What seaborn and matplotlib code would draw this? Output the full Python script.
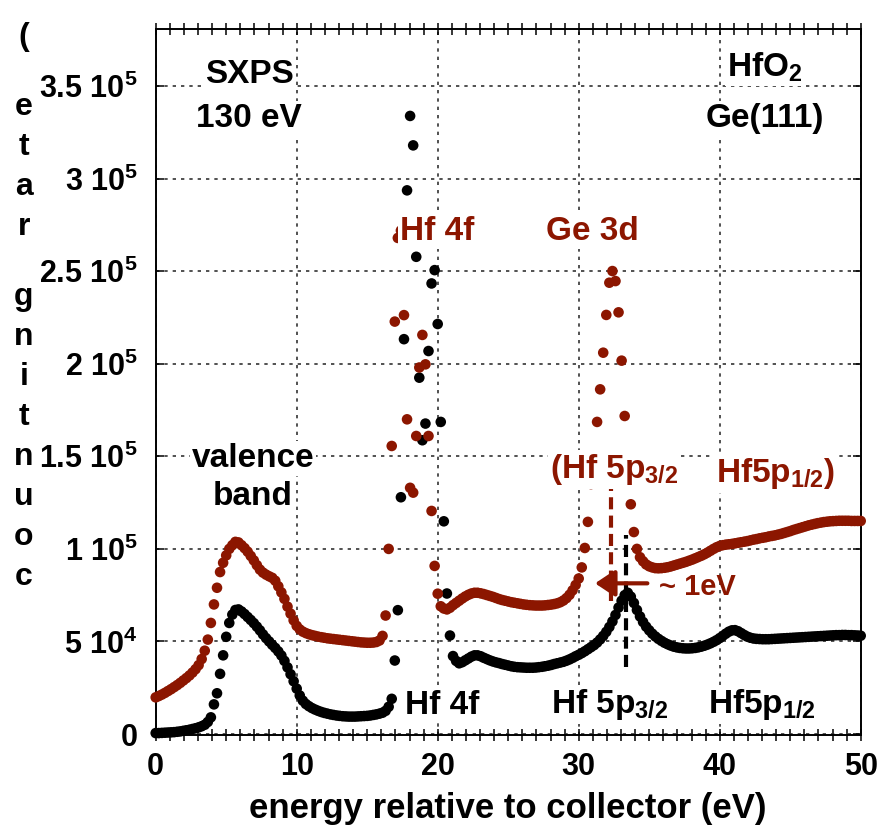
import numpy as np
import pandas as pd
import matplotlib
matplotlib.use("Agg")
import matplotlib.pyplot as plt
from matplotlib.ticker import MultipleLocator, FixedLocator, FixedFormatter
import seaborn as sns

# ---------------- data (counts in units of 1000) ----------------
energy_start, energy_stop, n_samples = 0.0, 50.0, 231

black_counts_k = [
    0.5, 0.5, 0.6, 0.7, 0.8, 0.9, 1.0, 1.2, 1.4, 1.7,
    2.0, 2.3, 2.7, 3.1, 3.6, 4.2, 5.0, 6.5, 9.0, 16,
    22, 32.5, 42.5, 52.5, 60, 64.5, 67, 67.3, 66.2, 64.8,
    63.2, 61.6, 59.9, 58, 56, 53.8, 51.8, 50, 48.2, 46.5,
    44.6, 42.4, 39.5, 36, 32.3, 28.5, 24.5, 20.8, 18, 16.2,
    15, 14, 13.2, 12.5, 11.9, 11.4, 11, 10.6, 10.3, 10.0,
    9.8, 9.6, 9.5, 9.4, 9.4, 9.4, 9.5, 9.6, 9.7, 9.8,
    10.0, 10.3, 10.6, 11.0, 11.5, 12.5, 14.7, 19, 39.7, 66.9,
    127.9, 213.3, 293.7, 333.9, 318, 257.8, 192.5, 158.7, 167.7, 206.9,
    243.4, 250.6, 221.5, 168.6, 114.9, 75.9, 53.2, 42.1, 39.5, 38.2,
    38.8, 39.8, 40.8, 41.8, 42.5, 42.5, 42, 41.2, 40.5, 39.8,
    39.2, 38.7, 38.3, 37.8, 37.4, 37, 36.6, 36.3, 36.1, 36,
    35.9, 35.8, 35.8, 35.8, 35.9, 36.1, 36.3, 36.6, 36.9, 37.3,
    37.8, 38.2, 38.6, 39, 39.6, 40.3, 41.1, 42, 42.8, 43.7,
    44.7, 45.8, 46.9, 48, 49.4, 51.1, 53, 55.2, 57.8, 60.8,
    64.3, 68.3, 72, 75, 76.3, 74.2, 70.8, 67, 63.5, 60.5,
    58, 56, 54.2, 52.7, 51.4, 50.3, 49.3, 48.5, 47.8, 47.2,
    46.8, 46.5, 46.3, 46.2, 46.2, 46.3, 46.5, 46.8, 47.2, 47.7,
    48.3, 49, 49.8, 50.7, 51.8, 53, 54.2, 55.3, 56, 56.1,
    55.5, 54.5, 53.5, 52.6, 52, 51.6, 51.4, 51.3, 51.2, 51.2,
    51.2, 51.3, 51.4, 51.5, 51.6, 51.7, 51.8, 51.9, 52, 52.1,
    52.2, 52.3, 52.4, 52.5, 52.6, 52.7, 52.8, 52.9, 53, 53.1,
    53.2, 53.3, 53.4, 53.4, 53.5, 53.5, 53.4, 53.4, 53.3, 53.2,
    53.1,
]

red_counts_k = [
    19.8, 20.5, 21.3, 22.2, 23.2, 24.2, 25.3, 26.4, 27.6, 28.9,
    30.2, 31.6, 33.2, 35, 37.2, 40.5, 45, 51, 60, 70,
    79, 87.5, 92.5, 96.5, 100, 102, 103.8, 103.5, 102, 100.4,
    98.5, 96.2, 93.8, 91.2, 88.8, 87.2, 86.1, 85.2, 84.4, 82.8,
    79.8, 76.5, 73, 68.8, 65, 61.4, 58.4, 56.5, 55.3, 54.5,
    53.9, 53.4, 53, 52.6, 52.3, 52, 51.7, 51.5, 51.3, 51.1,
    50.9, 50.7, 50.5, 50.3, 50.1, 49.9, 49.7, 49.5, 49.4, 49.3,
    49.3, 49.4, 49.7, 50.5, 53, 64, 100, 155.6, 222.8, 268,
    272, 226.3, 170, 133, 130.4, 161, 198, 215.6, 199.7, 161,
    120.5, 90.8, 75.8, 69, 67.8, 67.3, 68.2, 69.6, 70.8, 72,
    73.2, 74.3, 75.2, 75.9, 76.3, 76.3, 76, 75.6, 75.1, 74.6,
    74.1, 73.5, 72.9, 72.4, 72, 71.6, 71.2, 70.9, 70.6, 70.3,
    70, 69.8, 69.6, 69.5, 69.4, 69.4, 69.4, 69.5, 69.7, 69.9,
    70.2, 70.6, 71.2, 72.1, 73.4, 75.2, 77.6, 80.5, 84, 90,
    100.5, 114.6, 135, 150, 168.6, 186.2, 206, 226.4, 243.8, 250.1,
    244.7, 227.8, 201.7, 171.8, 145, 124.1, 109.1, 100, 95.5, 93.3,
    91.6, 90.6, 90, 89.6, 89.5, 89.6, 89.8, 90.1, 90.5, 91,
    91.5, 92, 92.5, 93, 93.6, 94.2, 94.9, 95.6, 96.3, 97.1,
    98, 99, 100, 100.9, 101.6, 102, 102.3, 102.5, 102.7, 103,
    103.3, 103.6, 103.9, 104.2, 104.6, 105, 105.3, 105.7, 106, 106.3,
    106.7, 107, 107.3, 107.7, 108.1, 108.6, 109.1, 109.6, 110.2, 110.7,
    111.2, 111.7, 112.2, 112.7, 113.1, 113.5, 113.9, 114.2, 114.5, 114.7,
    114.9, 115, 115.1, 115.2, 115.2, 115.2, 115.2, 115.1, 115.1, 115.1,
    115.1,
]

series_names = ["black", "red"]
x_ticks = [0, 10, 20, 30, 40, 50]
x_tick_labels = ["0", "10", "20", "30", "40", "50"]
y_ticks = [0, 50000, 100000, 150000, 200000, 250000, 300000, 350000]
y_tick_labels = ["0", "5 10$^4$", "1 10$^5$", "1.5 10$^5$", "2 10$^5$",
                 "2.5 10$^5$", "3 10$^5$", "3.5 10$^5$"]
x_label = "energy relative to collector (eV)"
y_label = "counting rate ("

# peak markers: energy, low count, high count
black_peak_marker = (33.36, 36000, 107500)
red_peak_marker = (32.3, 72000, 132500)
shift_arrow = (34.87, 31.16, 81400)   # from, to, height

# ---------------- style ----------------
sns.set_theme(style="white")
plt.rcParams["font.family"] = ["Liberation Sans", "DejaVu Sans"]
plt.rcParams["font.weight"] = "bold"
plt.rcParams["mathtext.fontset"] = "custom"
plt.rcParams["mathtext.rm"] = "Liberation Sans:bold"
plt.rcParams["mathtext.it"] = "Liberation Sans:bold"
plt.rcParams["mathtext.bf"] = "Liberation Sans:bold"
plt.rcParams["axes.unicode_minus"] = False
plt.rcParams["text.color"] = "black"
plt.rcParams["axes.labelcolor"] = "black"

RED = "#8c1600"
BLACK = "#000000"

energy = np.linspace(energy_start, energy_stop, n_samples)
df = pd.DataFrame({
    "energy": np.concatenate([energy, energy]),
    "counts": np.concatenate([np.array(black_counts_k), np.array(red_counts_k)]) * 1000.0,
    "sample": [series_names[0]] * n_samples + [series_names[1]] * n_samples,
})

W, H = 878, 830
fig = plt.figure(figsize=(W / 100, H / 100), dpi=100)
ax = fig.add_axes([155.7 / W, 1 - 735 / H, 705 / W, 705.5 / H])

sns.scatterplot(data=df, x="energy", y="counts", hue="sample",
                hue_order=series_names, palette={"black": BLACK, "red": RED},
                s=58, linewidth=0, legend=False, ax=ax, clip_on=False, zorder=3)

ax.set_xlim(0, 50)
ax.set_ylim(-540, 380600)

ax.xaxis.set_major_locator(FixedLocator(x_ticks))
ax.xaxis.set_major_formatter(FixedFormatter(x_tick_labels))
ax.xaxis.set_minor_locator(MultipleLocator(1))
ax.yaxis.set_major_locator(FixedLocator(y_ticks))
ax.yaxis.set_major_formatter(FixedFormatter(y_tick_labels))

ax.tick_params(axis="x", which="both", direction="inout", length=8.5, width=1.1,
               top=True, bottom=True, labelsize=22, pad=8, colors="black")
ax.tick_params(axis="y", which="major", direction="in", length=6, width=1.1,
               left=True, right=True, labelsize=22, pad=13, colors="black")
for lab in ax.get_xticklabels() + ax.get_yticklabels():
    lab.set_fontweight("bold")

ax.grid(True, which="major", linestyle=(0, (2, 3)), linewidth=1.2, color="#333333")
ax.set_axisbelow(True)
for sp in ax.spines.values():
    sp.set_color("black")
    sp.set_linewidth(1.4)

ax.set_xlabel(x_label, fontsize=25, fontweight="bold", labelpad=7, color="black")
ax.set_ylabel("")

# stacked, reversed y label letters
y_px = 585.0
for ch in y_label:
    if ch == " ":
        y_px -= 30
        continue
    fig.text(24 / W, 1 - y_px / H, ch, ha="center", va="baseline",
             fontsize=23, fontweight="bold", color="black")
    y_px -= 40

# peak-position markers and shift arrow
ax.plot([black_peak_marker[0]] * 2, black_peak_marker[1:], color=BLACK, lw=3,
        linestyle=(0, (2.9, 1.5)), zorder=4, solid_capstyle="butt")
ax.plot([red_peak_marker[0]] * 2, red_peak_marker[1:], color=RED, lw=3,
        linestyle=(0, (2.9, 1.5)), zorder=4, solid_capstyle="butt")
ax.annotate("", xy=(shift_arrow[1], shift_arrow[2]), xytext=(shift_arrow[0], shift_arrow[2]),
            arrowprops=dict(arrowstyle="-|>,head_length=0.6,head_width=0.4", color=RED,
                            lw=3, mutation_scale=20, shrinkA=0, shrinkB=0), zorder=5)

box = dict(facecolor="white", edgecolor="none", pad=1.5)
def label(x, y, s, color=BLACK, size=24):
    ax.text(x, y, s, ha="center", va="baseline", fontsize=size, fontweight="bold",
            color=color, bbox=box, zorder=6)

label(6.63, 351700, "SXPS")
label(6.63, 328000, "130 eV")
label(43.2, 355000, "HfO$_2$")
label(43.2, 328000, "Ge(111)")
label(6.9, 144000, "valence")
label(6.9, 123500, "band")
label(19.95, 267000, "Hf 4f", RED)
label(31.0, 267000, "Ge 3d", RED)
label(32.5, 138300, "(Hf 5p$_{3/2}$", RED)
label(44.0, 136300, "Hf5p$_{1/2}$)", RED)
label(20.3, 11000, "Hf 4f")
label(32.2, 11300, "Hf 5p$_{3/2}$")
label(43.0, 11300, "Hf5p$_{1/2}$")
ax.text(38.4, 75100, "~ 1eV", ha="center", va="baseline", fontsize=21,
        fontweight="bold", color=RED, zorder=6)

fig.savefig("out.png", dpi=100)
